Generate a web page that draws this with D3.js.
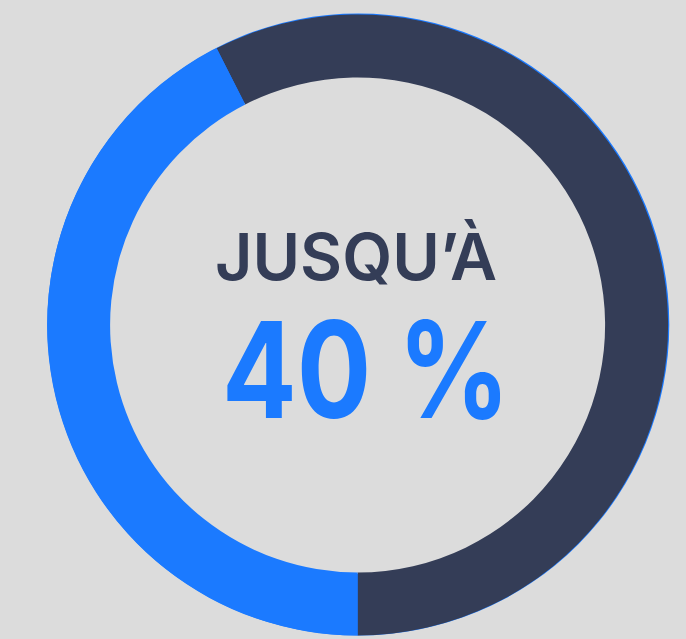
<!DOCTYPE html>
<html>
<head>
<meta charset="utf-8">
<script src="https://cdn.jsdelivr.net/npm/d3@7"></script>
<style>
  html, body { margin: 0; padding: 0; background: #dcdcdc; }
  svg { display: block; }
</style>
</head>
<body>
<div id="chart"></div>
<script>
// Données
const segments = ['reste', 'remise'];
const values = [57.5, 42.5];
const colors = ['#343d57', '#1b7aff'];
const titleText = 'JUSQU\u2019À';
const valueText = '40 %';

const width = 686, height = 639;
const cx = 357.6, cy = 325;
const outerR = 311, innerR = 247.5;

const svg = d3.select('#chart')
    .append('svg')
    .attr('width', width)
    .attr('height', height);

svg.append('rect')
    .attr('width', width)
    .attr('height', height)
    .attr('fill', '#dcdcdc');

const g = svg.append('g')
    .attr('transform', `translate(${cx}, ${cy})`);

// anneau bleu derrière (léger liseré visible en haut à droite)
g.append('path')
    .attr('transform', 'translate(0.7, -0.5)')
    .attr('d', d3.arc().innerRadius(innerR + 2).outerRadius(outerR)({ startAngle: 0, endAngle: 2 * Math.PI }))
    .attr('fill', colors[1]);

const start = -27 * Math.PI / 180;
const pie = d3.pie()
    .sort(null)
    .startAngle(start)
    .endAngle(start + 2 * Math.PI);

const arc = d3.arc()
    .innerRadius(innerR)
    .outerRadius(outerR - 0.5);

g.selectAll('.slice')
    .data(pie(values))
    .join('path')
    .attr('class', 'slice')
    .attr('d', arc)
    .attr('fill', (d, i) => colors[i]);

// Texte central
svg.append('text')
    .attr('x', 356)
    .attr('y', 280)
    .attr('text-anchor', 'middle')
    .attr('font-family', 'Inter, sans-serif')
    .attr('font-weight', 600)
    .attr('font-size', 64)
    .attr('fill', colors[0])
    .attr('textLength', 282)
    .attr('lengthAdjust', 'spacingAndGlyphs')
    .text(titleText);

svg.append('text')
    .attr('x', 366)
    .attr('y', 418)
    .attr('text-anchor', 'middle')
    .attr('font-family', 'Inter, sans-serif')
    .attr('font-weight', 700)
    .attr('font-size', 134)
    .attr('fill', colors[1])
    .attr('textLength', 288)
    .attr('lengthAdjust', 'spacingAndGlyphs')
    .text(valueText);
</script>
</body>
</html>
